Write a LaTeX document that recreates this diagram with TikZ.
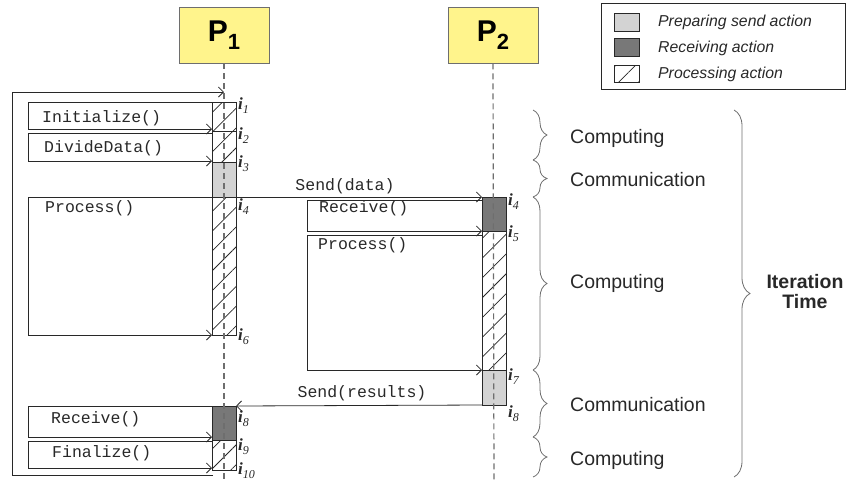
\documentclass[tikz,border=0pt]{standalone}
\usepackage{fontspec}
\setmainfont{Liberation Serif}
\setsansfont{Liberation Sans}
\setmonofont{Liberation Mono}
\usetikzlibrary{patterns.meta,decorations.pathreplacing,arrows.meta}
\definecolor{pyellow}{RGB}{255,244,140}
\definecolor{lgray}{RGB}{211,211,211}
\definecolor{dgray}{RGB}{120,120,120}
\definecolor{linec}{RGB}{40,40,40}
\definecolor{lifec}{RGB}{110,110,110}
\newcommand{\ilab}[1]{{\fontsize{17}{17}\selectfont\bfseries\itshape i}\raisebox{-4pt}{\fontsize{12}{12}\selectfont\itshape #1}}
\begin{document}
\begin{tikzpicture}[x=1pt,y=-1pt,
  ln/.style={draw=linec, line width=0.8pt},
  arr/.style={ln, -{Straight Barb[length=5pt,width=10pt]}},
  bar/.style={draw=linec, line width=0.8pt, minimum width=24pt, inner sep=0, outer sep=0, anchor=north west},
  sendbar/.style={bar, fill=lgray},
  recvbar/.style={bar, fill=dgray},
  hatchbar/.style={bar, pattern={Lines[angle=45,distance=14pt,line width=0.75pt]}, pattern color=linec},
  swatch/.style={draw=linec, line width=0.6pt, minimum width=25pt, minimum height=18pt, inner sep=0, anchor=north west},
  proc/.style={draw=lifec, line width=0.8pt, fill=pyellow, minimum width=90pt, minimum height=56pt, inner sep=0},
  code/.style={font=\fontsize{16.5}{18}\selectfont\ttfamily, inner sep=0, text=linec},
  ilabel/.style={inner sep=0, anchor=north west, text=linec},
  phase/.style={font=\fontsize{19.5}{22}\selectfont\sffamily, inner sep=0, anchor=west, text=linec},
  legtext/.style={font=\fontsize{15.8}{18}\selectfont\sffamily\itshape, inner sep=0, anchor=west, text=linec},
  lifeline/.style={draw=lifec, line width=1.2pt, dash pattern=on 6pt off 4pt},
  bracestyle/.style={draw=lifec, line width=0.8pt, decorate, decoration={brace, amplitude=#1}},
]
\useasboundingbox (0,0) rectangle (846,483);

% process headers
\node[proc] (P1) at (224,35) {{\fontsize{30}{30}\selectfont\sffamily\bfseries P}\raisebox{-8pt}{\fontsize{22}{22}\selectfont\sffamily\bfseries 1}};
\node[proc] (P2) at (493,35) {{\fontsize{30}{30}\selectfont\sffamily\bfseries P}\raisebox{-8pt}{\fontsize{22}{22}\selectfont\sffamily\bfseries 2}};

% bars P1
\node[hatchbar, minimum height=29pt] (A1) at (212,102) {};
\node[hatchbar, minimum height=31pt] (A2) at (212,131) {};
\node[sendbar, minimum height=35pt] (A3) at (212,162) {};
\node[hatchbar, minimum height=138pt] (A4) at (212,197) {};
\node[recvbar, minimum height=34pt] (A5) at (212,406) {};
\node[hatchbar, minimum height=30pt] (A6) at (212,440) {};
% bars P2
\node[recvbar, minimum height=34pt] (B1) at (482,197) {};
\node[hatchbar, minimum height=139pt] (B2) at (482,231) {};
\node[sendbar, minimum height=35pt] (B3) at (482,370) {};

% lifelines
\coordinate (L1end) at (224,483);
\coordinate (L2end) at (494,483);
\draw[lifeline] (P1.south) -- (L1end);
\draw[lifeline] (P2.south) -- (L2end);

% loop
\coordinate (loopA) at (213,475);
\coordinate (loopB) at (224,92);
\draw[arr] (loopA) -- (12,475) -- (12,92) -- (loopB);

% P1 calls
\draw[arr] (A1.north west) -- (28,102) -- (28,129) -- (212,129);
\draw[arr] (212,133) -- (28,133) -- (28,161) -- (212,161);
\draw[arr] (A4.north west) -- (28,197) -- (28,335) -- (A4.south west);
\draw[arr] (A5.north west) -- (28,406) -- (28,437) -- (212,437);
\draw[arr] (212,441) -- (28,441) -- (28,468) -- (212,468);
% P2 calls
\draw[arr] (482,200) -- (307,200) -- (307,231) -- (B1.south west);
\draw[arr] (482,235) -- (307,235) -- (307,370) -- (B2.south west);
% messages
\draw[arr] (A3.south east) -- (B1.north west);
\draw[arr] (B3.south west) -- (A5.north east);

% code texts
\node[code, anchor=west] (t1) at (42,118) {Initialize()};
\node[code, anchor=west] (t2) at (44,148) {DivideData()};
\node[code, anchor=west] (t3) at (45,208) {Process()};
\node[code, anchor=west] (t4) at (51,419) {Receive()};
\node[code, anchor=west] (t5) at (52,453) {Finalize()};
\node[code, anchor=west] (t6) at (319,208) {Receive()};
\node[code, anchor=west] (t7) at (318,245) {Process()};
\node[code] (t8) at (345,186) {Send(data)};
\node[code] (t9) at (362,393) {Send(results)};

% i labels
\node[ilabel] (i1) at (238,97) {\ilab{1}};
\node[ilabel] (i2) at (238,127) {\ilab{2}};
\node[ilabel] (i3) at (238,155) {\ilab{3}};
\node[ilabel] (i4) at (238,198) {\ilab{4}};
\node[ilabel] (i6) at (238,328) {\ilab{6}};
\node[ilabel] (i8a) at (238,410) {\ilab{8}};
\node[ilabel] (i9) at (238,438) {\ilab{9}};
\node[ilabel] (i10) at (238,462) {\ilab{10}};
\node[ilabel] (j4) at (508,193) {\ilab{4}};
\node[ilabel] (j5) at (508,225) {\ilab{5}};
\node[ilabel] (j7) at (508,368) {\ilab{7}};
\node[ilabel] (j8) at (508,405) {\ilab{8}};

% braces
\draw[bracestyle=14pt] (533,110) -- (533,160);
\draw[bracestyle=14pt] (533,160) -- (533,197);
\draw[bracestyle=14pt] (533,197) -- (533,370);
\draw[bracestyle=14pt] (533,370) -- (533,437);
\draw[bracestyle=14pt] (533,437) -- (533,477);
\draw[bracestyle=16pt] (734,110) -- (734,477);

\node[phase] (ph1) at (570,138) {Computing};
\node[phase] (ph2) at (570,180) {Communication};
\node[phase] (ph3) at (570,283) {Computing};
\node[phase] (ph4) at (570,405) {Communication};
\node[phase] (ph5) at (570,460) {Computing};
\node[font=\fontsize{19.5}{20}\selectfont\sffamily\bfseries, align=center, inner sep=0, text=linec] (it) at (805,292) {Iteration\\Time};

% legend
\node[draw=linec, line width=0.8pt, minimum width=244pt, minimum height=86pt, inner sep=0, anchor=north west] (leg) at (601,3) {};
\node[swatch, fill=lgray] (s1) at (614,13) {};
\node[swatch, fill=dgray] (s2) at (614,38) {};
\node[swatch, minimum height=17pt, pattern={Lines[angle=45,distance=14pt,line width=0.75pt]}, pattern color=linec] (s3) at (614,65) {};
\node[legtext] (l1) at (658,22) {Preparing send action};
\node[legtext] (l2) at (658,48) {Receiving action};
\node[legtext] (l3) at (658,74) {Processing action};
\end{tikzpicture}
\end{document}
